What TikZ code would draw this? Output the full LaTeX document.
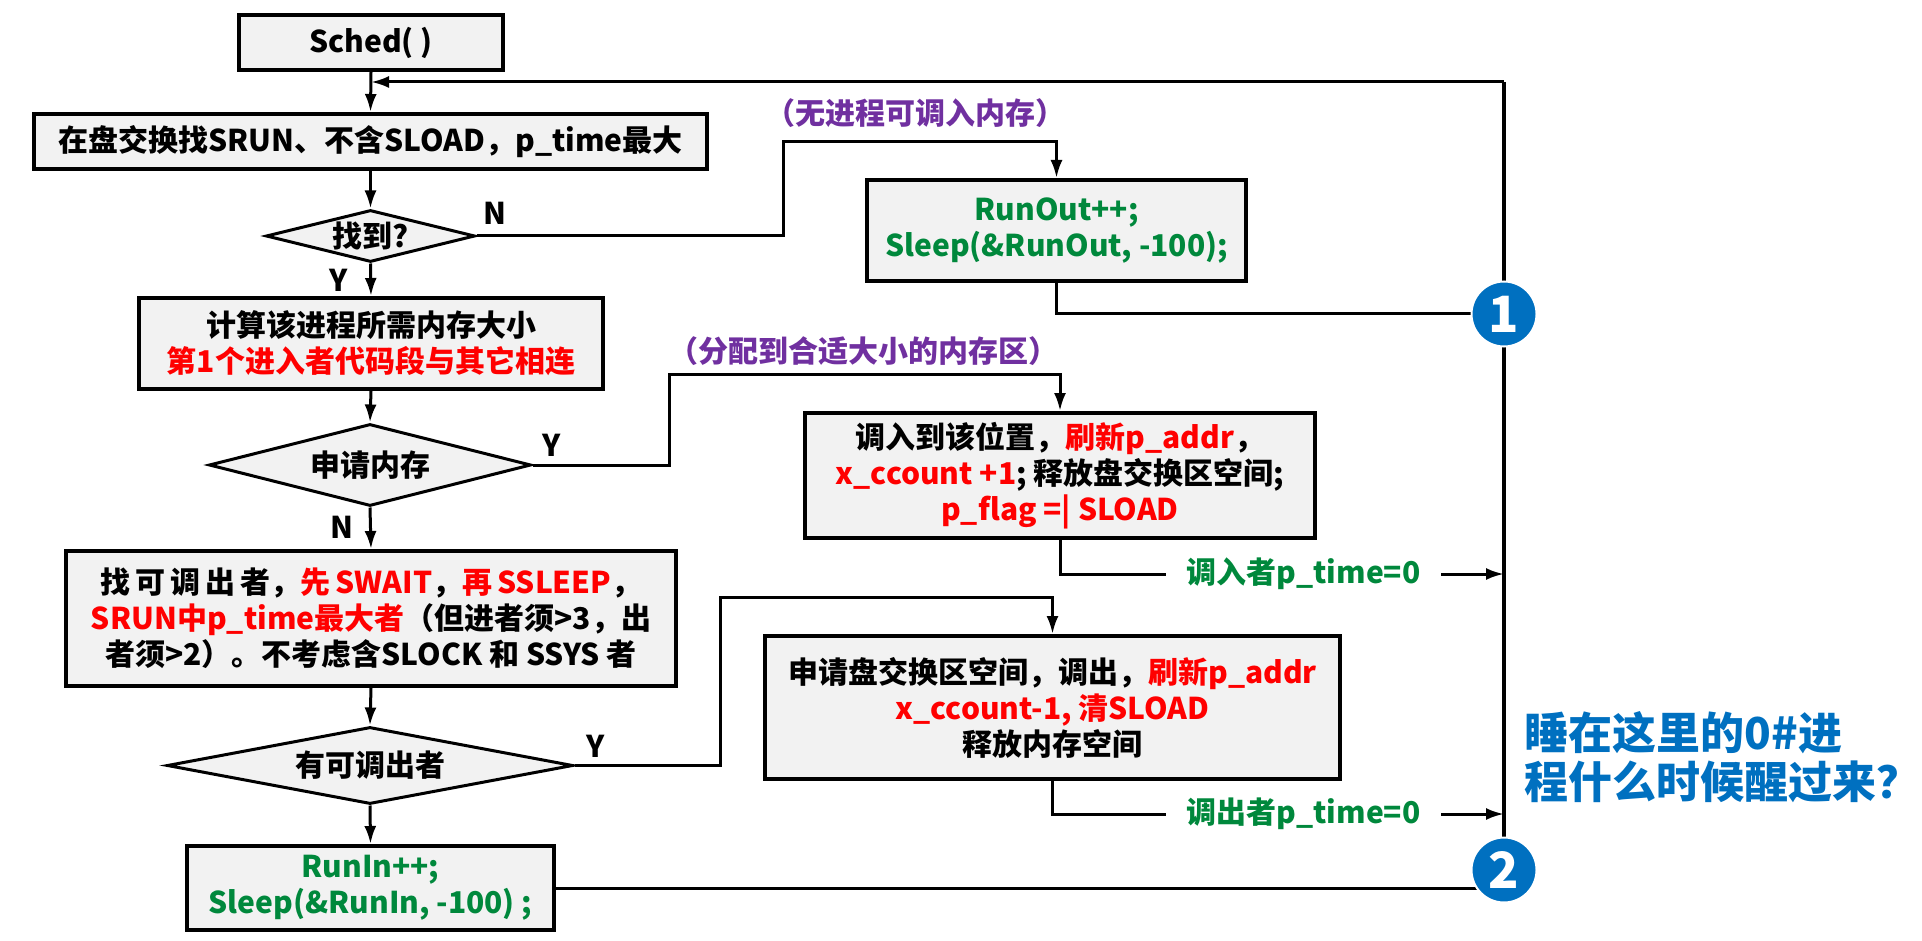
\documentclass[tikz,border=0pt]{standalone}
\usepackage{fontspec}
\setmainfont{Noto Sans CJK SC}
\usetikzlibrary{shapes.geometric,arrows.meta,backgrounds}
\definecolor{boxfill}{RGB}{242,242,242}
\definecolor{tgreen}{RGB}{0,136,60}
\definecolor{tred}{RGB}{255,0,0}
\definecolor{tpurple}{RGB}{112,48,160}
\definecolor{tblue}{RGB}{0,112,192}
\def\u{0.5pt}
\tikzset{
  every node/.style={font=\fontsize{15}{18}\selectfont\bfseries},
  procbox/.style={draw=black, line width=2pt, fill=boxfill, inner sep=0pt, align=center},
  decbox/.style={draw=black, line width=1.5pt, fill=boxfill, diamond, shape aspect=4, inner sep=0pt, align=center},
  conn/.style={line width=1.5pt, draw=black},
  arr/.style={conn, -{Latex[length=9pt,width=6pt]}},
  yn/.style={inner sep=0pt, font=\fontsize{15}{18}\selectfont\bfseries},
  numcirc/.style={circle, fill=tblue, draw=white, line width=1pt, minimum size=65*\u, inner sep=0pt, text=white, font=\fontsize{25}{27}\selectfont\bfseries},
  notelabel/.style={inner sep=0pt, text=tpurple},
  timelabel/.style={inner sep=0pt, text=tgreen, minimum width=275*\u, minimum height=20*\u},
}
\begin{document}
\begin{tikzpicture}[x=0.5pt, y=-0.5pt]
\useasboundingbox (0,0) rectangle (1922,941);

% process boxes
\node[procbox, minimum width=264*\u, minimum height=55*\u] (sched) at (371,42.5) {Sched( )};
\node[procbox, minimum width=673*\u, minimum height=55*\u] (find) at (370.5,141.5) {在盘交换找SRUN、不含SLOAD，p\_time最大};
\node[decbox, minimum width=209*\u, minimum height=52*\u] (found) at (370.5,236) {找到?};
\node[procbox, minimum width=464*\u, minimum height=91*\u] (calc) at (371,343.5) {计算该进程所需内存大小\\\textcolor{tred}{第1个进入者代码段与其它相连}};
\node[decbox, minimum width=322*\u, minimum height=82*\u] (alloc) at (370,465) {申请内存};
\node[procbox, minimum width=610*\u, minimum height=135*\u] (swap) at (371,618.5) {找\,可\,调\,出\,者，\textcolor{tred}{先\,SWAIT}，\textcolor{tred}{再\,SSLEEP}，\\\textcolor{tred}{SRUN中p\_time最大者}（但进者须>3，出\\者须>2）。不考虑含SLOCK 和 SSYS 者};
\node[decbox, minimum width=406*\u, minimum height=77*\u] (has) at (370,765.5) {有可调出者};
\node[procbox, minimum width=367*\u, minimum height=84*\u, text=tgreen] (runin) at (370.5,888) {RunIn++;\\Sleep(\&RunIn, -100) ;};

\node[procbox, minimum width=379*\u, minimum height=101*\u, text=tgreen] (runout) at (1056.5,230.5) {RunOut++;\\Sleep(\&RunOut, -100);};
\node[procbox, minimum width=510*\u, minimum height=125*\u] (load) at (1060,475.5) {调入到该位置，\textcolor{tred}{刷新p\_addr}，\\\textcolor{tred}{x\_ccount +1}; 释放盘交换区空间;\\\textcolor{tred}{p\_flag =| SLOAD}};
\node[procbox, minimum width=575*\u, minimum height=143*\u] (out) at (1052.5,707.5) {申请盘交换区空间，调出，\textcolor{tred}{刷新p\_addr}\\\textcolor{tred}{x\_ccount-1, 清SLOAD}\\释放内存空间};

% labels
\node[notelabel] (lbl1) at (915,113) {（无进程可调入内存）};
\node[notelabel] (lbl2) at (863,351) {（分配到合适大小的内存区）};
\node[timelabel] (tin) at (1303.5,574) {调入者p\_time=0};
\node[timelabel] (tout) at (1303.5,814) {调出者p\_time=0};
\node[yn] (nfound) at (495,213) {N};
\node[yn] (yfound) at (339,280) {Y};
\node[yn] (yalloc) at (552,445) {Y};
\node[yn] (nalloc) at (342,527) {N};
\node[yn] (yhas) at (596,746) {Y};

% numbered circles
\node[numcirc] (c1) at (1504,314) {1};
\node[numcirc] (c2) at (1504,870) {2};

% question text
\node[anchor=west, inner sep=0pt, align=left, text=tblue, font=\fontsize{22}{24.5}\selectfont\bfseries] (q) at (1524,757.5) {睡在这里的0\#进\\程什么时候醒过来？};

% helper coordinates
\coordinate (loopin) at (371,82);
\coordinate (nbend) at (783,142);
\coordinate (ybend) at (669,374);
\coordinate (hbend) at (720,597);

\begin{pgfonlayer}{background}
\draw[arr] (sched.south) -- (find.north);
\draw[arr] (find.south) -- (found.north);
\draw[arr] (found.south) -- (calc.north);
\draw[arr] (calc.south) -- (alloc.north);
\draw[arr] (alloc.south) -- (swap.north);
\draw[arr] (swap.south) -- (has.north);
\draw[arr] (has.south) -- (runin.north);

\draw[arr] (found.east) -| (nbend) -| (runout.north);
\draw[arr] (alloc.east) -| (ybend) -| (load.north);
\draw[arr] (has.east) -| (hbend) -| (out.north);

\draw[conn] (runout.south) |- (c1.center);
\draw[conn] (runin.east) -- (runin.east -| c2.center);
\draw[conn] (load.south) |- (tin.west);
\draw[arr] (tin.east) -- (tin.east -| c1.center);
\draw[conn] (out.south) |- (tout.west);
\draw[arr] (tout.east) -- (tout.east -| c1.center);

\draw[line width=2pt] (c2.center) -- (c1.center);
\draw[line width=2pt] (c1.center) -- (c1.center |- loopin);
\draw[arr] (c1.center |- loopin) -- (loopin);
\end{pgfonlayer}
\end{tikzpicture}
\end{document}
